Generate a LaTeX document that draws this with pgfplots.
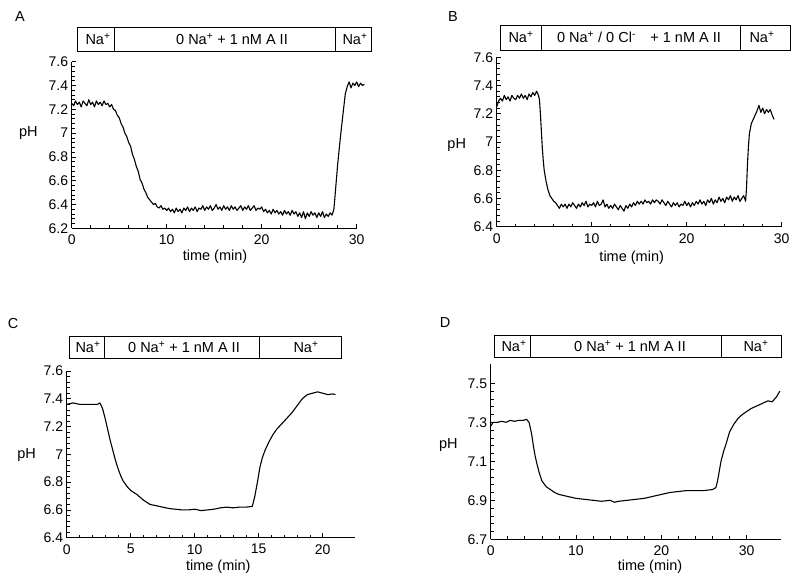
\documentclass[border=0pt]{standalone}
\usepackage{pgfplots}
\pgfplotsset{compat=1.18}
\usepackage{fontspec}
\setmainfont{Liberation Sans}
\pgfplotstableread{
t pH
0 7.25
0.2 7.23
0.4 7.27
0.6 7.24
0.8 7.26
1.0 7.22
1.2 7.27
1.4 7.25
1.6 7.23
1.8 7.28
2.0 7.24
2.2 7.26
2.4 7.22
2.6 7.27
2.8 7.24
3.0 7.26
3.2 7.23
3.4 7.27
3.6 7.24
3.8 7.25
4.0 7.22
4.2 7.24
4.4 7.20
4.6 7.19
4.8 7.15
5.0 7.13
5.2 7.08
5.4 7.05
5.6 7.00
5.8 6.97
6.0 6.92
6.2 6.89
6.4 6.82
6.6 6.78
6.8 6.72
7.0 6.68
7.2 6.61
7.4 6.58
7.6 6.53
7.8 6.50
8.0 6.46
8.2 6.44
8.4 6.42
8.6 6.40
8.8 6.41
9.0 6.38
9.2 6.37
9.4 6.39
9.6 6.36
9.8 6.37
10.0 6.35
10.2 6.37
10.4 6.34
10.6 6.36
10.8 6.33
11.0 6.37
11.2 6.34
11.4 6.36
11.6 6.33
11.8 6.37
12.0 6.35
12.2 6.38
12.4 6.34
12.6 6.37
12.8 6.35
13.0 6.38
13.2 6.34
13.4 6.37
13.6 6.36
13.8 6.39
14.0 6.35
14.2 6.38
14.4 6.36
14.6 6.39
14.8 6.35
15.0 6.37
15.2 6.40
15.4 6.36
15.6 6.38
15.8 6.35
16.0 6.39
16.2 6.36
16.4 6.38
16.6 6.35
16.8 6.39
17.0 6.36
17.2 6.38
17.4 6.35
17.6 6.37
17.8 6.39
18.0 6.35
18.2 6.38
18.4 6.36
18.6 6.39
18.8 6.35
19.0 6.37
19.2 6.39
19.4 6.35
19.6 6.37
19.8 6.36
20.0 6.38
20.2 6.34
20.4 6.36
20.6 6.33
20.8 6.35
21.0 6.32
21.2 6.36
21.4 6.33
21.6 6.35
21.8 6.32
22.0 6.34
22.2 6.31
22.4 6.35
22.6 6.32
22.8 6.34
23.0 6.31
23.2 6.35
23.4 6.32
23.6 6.34
23.8 6.30
24.0 6.33
24.2 6.29
24.4 6.34
24.6 6.28
24.8 6.33
25.0 6.30
25.2 6.34
25.4 6.31
25.6 6.33
25.8 6.29
26.0 6.33
26.2 6.30
26.4 6.34
26.6 6.29
26.8 6.32
27.0 6.30
27.2 6.33
27.4 6.31
27.6 6.36
27.8 6.55
28.0 6.74
28.2 6.90
28.4 7.05
28.6 7.19
28.8 7.33
29.0 7.39
29.2 7.43
29.4 7.38
29.6 7.42
29.8 7.40
30.0 7.43
30.2 7.39
30.4 7.42
30.6 7.40
30.8 7.41
}\dataA
\pgfplotstableread{
t pH
0 7.25
0.2 7.29
0.4 7.31
0.6 7.29
0.8 7.33
1.0 7.30
1.2 7.32
1.4 7.29
1.6 7.33
1.8 7.31
2.0 7.30
2.2 7.33
2.4 7.31
2.6 7.34
2.8 7.31
3.0 7.33
3.2 7.30
3.4 7.34
3.6 7.32
3.8 7.35
4.0 7.33
4.2 7.36
4.4 7.33
4.5 7.30
4.6 7.20
4.7 7.08
4.8 6.96
4.9 6.87
5.0 6.80
5.2 6.72
5.4 6.66
5.6 6.62
5.8 6.60
6.0 6.58
6.2 6.57
6.4 6.55
6.6 6.53
6.8 6.56
7.0 6.54
7.2 6.56
7.4 6.53
7.6 6.56
7.8 6.54
8.0 6.57
8.2 6.55
8.4 6.53
8.6 6.56
8.8 6.54
9.0 6.57
9.2 6.55
9.4 6.58
9.6 6.54
9.8 6.56
10.0 6.55
10.2 6.57
10.4 6.54
10.6 6.58
10.8 6.55
11.0 6.56
11.2 6.59
11.4 6.54
11.6 6.56
11.8 6.53
12.0 6.55
12.2 6.53
12.4 6.56
12.6 6.54
12.8 6.52
13.0 6.55
13.2 6.53
13.4 6.51
13.6 6.55
13.8 6.53
14.0 6.56
14.2 6.54
14.4 6.57
14.6 6.55
14.8 6.58
15.0 6.56
15.2 6.58
15.4 6.56
15.6 6.59
15.8 6.57
16.0 6.58
16.2 6.56
16.4 6.59
16.6 6.57
16.8 6.59
17.0 6.58
17.2 6.56
17.4 6.59
17.6 6.57
17.8 6.55
18.0 6.58
18.2 6.56
18.4 6.54
18.6 6.57
18.8 6.55
19.0 6.57
19.2 6.54
19.4 6.56
19.6 6.55
19.8 6.58
20.0 6.55
20.2 6.57
20.4 6.54
20.6 6.57
20.8 6.55
21.0 6.58
21.2 6.56
21.4 6.59
21.6 6.56
21.8 6.58
22.0 6.55
22.2 6.59
22.4 6.57
22.6 6.60
22.8 6.56
23.0 6.59
23.2 6.57
23.4 6.61
23.6 6.58
23.8 6.60
24.0 6.57
24.2 6.61
24.4 6.59
24.6 6.62
24.8 6.58
25.0 6.61
25.2 6.59
25.4 6.62
25.6 6.58
25.8 6.60
26.0 6.62
26.2 6.58
26.3 6.68
26.4 6.85
26.5 6.97
26.6 7.06
26.8 7.13
27.0 7.16
27.2 7.19
27.4 7.22
27.6 7.26
27.8 7.21
28.0 7.24
28.2 7.20
28.4 7.23
28.6 7.21
28.8 7.23
29.0 7.19
29.2 7.16
}\dataB
\pgfplotstableread{
t pH
0 7.36
0.5 7.37
1.0 7.36
1.5 7.36
2.0 7.36
2.4 7.36
2.6 7.37
2.8 7.33
3.0 7.26
3.2 7.18
3.4 7.10
3.6 7.03
3.8 6.96
4.0 6.90
4.2 6.85
4.4 6.81
4.7 6.77
5.0 6.74
5.5 6.71
6.0 6.67
6.5 6.64
7.0 6.63
7.5 6.62
8.0 6.61
8.5 6.605
9.0 6.60
9.5 6.60
10.0 6.605
10.5 6.595
11.0 6.60
11.5 6.605
12.0 6.615
12.5 6.62
13.0 6.615
13.5 6.62
14.0 6.62
14.5 6.625
14.7 6.70
14.9 6.80
15.1 6.91
15.3 6.98
15.5 7.03
15.8 7.09
16.1 7.14
16.4 7.18
16.8 7.22
17.2 7.26
17.6 7.30
18.0 7.35
18.4 7.40
18.8 7.43
19.2 7.44
19.6 7.45
20.0 7.44
20.4 7.43
20.8 7.435
21.0 7.43
}\dataC
\pgfplotstableread{
t pH
0 7.28
0.3 7.30
0.8 7.30
1.3 7.305
1.8 7.30
2.3 7.31
2.8 7.305
3.3 7.31
3.8 7.31
4.2 7.315
4.5 7.30
4.8 7.24
5.0 7.18
5.2 7.13
5.4 7.09
5.7 7.04
6.0 7.00
6.5 6.97
7.0 6.955
7.5 6.94
8.0 6.93
9.0 6.92
10.0 6.91
11.0 6.905
12.0 6.90
13.0 6.895
14.0 6.90
14.5 6.89
15.0 6.895
16.0 6.90
17.0 6.905
18.0 6.91
19.0 6.92
20.0 6.93
21.0 6.94
22.0 6.945
23.0 6.95
24.0 6.95
25.0 6.95
26.0 6.955
26.4 6.965
26.6 7.00
26.8 7.05
27.0 7.10
27.3 7.15
27.6 7.19
28.0 7.25
28.5 7.29
29.0 7.32
29.5 7.34
30.0 7.355
30.5 7.37
31.0 7.38
31.5 7.39
32.0 7.40
32.5 7.41
33.0 7.405
33.5 7.43
33.9 7.46
}\dataD
\pgfplotsset{
  panel/.style={
    scale only axis, anchor=south west, axis lines=left,
    axis line style={-, line width=0.8pt},
    tick align=inside, major tick length=4.5pt, minor tick length=3pt,
    every tick/.style={black, line width=0.7pt},
    tick label style={font=\fontsize{14}{16}\selectfont},
    xticklabel style={yshift=-3pt},
    /pgf/number format/assume math mode=true,
    minor x tick num=4, minor y tick num=4,
    clip=false,
  },
  trace/.style={black, line width=1.1pt, no marks, line join=round},
}
\begin{document}
\begin{tikzpicture}
\useasboundingbox (0pt,0pt) rectangle (800pt,586pt);
% Panel A
\begin{axis}[panel, at={(71.7pt,357.7pt)}, width=285pt, height=166.6pt,
  xmin=0, xmax=30, ymin=6.2, ymax=7.6,
  xtick={0,10,20,30}, ytick={6.2,6.4,6.6,6.8,7,7.2,7.4,7.6}]
\addplot[trace] table[x=t,y=pH]{\dataA};
\end{axis}
% Panel B
\begin{axis}[panel, at={(496.7pt,359.3pt)}, width=285pt, height=169.4pt,
  xmin=0, xmax=30, ymin=6.4, ymax=7.6,
  xtick={0,10,20,30}, ytick={6.4,6.6,6.8,7,7.2,7.4,7.6}]
\addplot[trace] table[x=t,y=pH]{\dataB};
\end{axis}
% Panel C
\begin{axis}[panel, at={(66.7pt,48.3pt)}, width=288pt, height=166.7pt,
  xmin=0, xmax=22.5, ymin=6.4, ymax=7.6,
  xtick={0,5,10,15,20}, ytick={6.4,6.6,6.8,7,7.2,7.4,7.6}]
\addplot[trace] table[x=t,y=pH]{\dataC};
\end{axis}
% Panel D
\begin{axis}[panel, at={(490.7pt,46.7pt)}, width=290pt, height=175.5pt,
  xmin=0, xmax=34, ymin=6.7, ymax=7.6,
  xtick={0,10,20,30}, ytick={6.7,6.9,7.1,7.3,7.5}]
\addplot[trace] table[x=t,y=pH]{\dataD};
\end{axis}
% labels
\tikzset{lab/.style={font=\fontsize{14.5}{17}\selectfont, inner sep=0pt}}
\node[lab] at (20pt,569pt) {A};
\node[lab] at (453pt,569pt) {B};
\node[lab] at (13pt,262pt) {C};
\node[lab] at (445pt,263pt) {D};
\node[lab] at (28.3pt,452.7pt) {pH};
\node[lab] at (456.7pt,441pt) {pH};
\node[lab] at (26.7pt,131pt) {pH};
\node[lab] at (448.3pt,141pt) {pH};
\node[lab] at (215pt,329.3pt) {time (min)};
\node[lab] at (631.7pt,328.7pt) {time (min)};
\node[lab] at (218.3pt,19.3pt) {time (min)};
\node[lab] at (650pt,19.3pt) {time (min)};
% boxes
\tikzset{bx/.style={line width=0.8pt}}
\draw[bx] (77pt,535pt) rectangle (371pt,559pt); \draw[bx] (114pt,535pt)--(114pt,559pt); \draw[bx] (335pt,535pt)--(335pt,559pt);
\node[lab] at (98pt,547pt) {Na\textsuperscript{+}};
\node[lab] at (232pt,547pt) {0 Na\textsuperscript{+} + 1 nM A II};
\node[lab] at (355pt,547pt) {Na\textsuperscript{+}};
\draw[bx] (500.7pt,536pt) rectangle (790pt,561pt); \draw[bx] (541.7pt,536pt)--(541.7pt,561pt); \draw[bx] (740.7pt,536pt)--(740.7pt,561pt);
\node[lab] at (521pt,548.5pt) {Na\textsuperscript{+}};
\node[lab] at (639pt,548.5pt) {0 Na\textsuperscript{+} / 0 Cl\textsuperscript{-}\quad + 1 nM A II};
\node[lab] at (762pt,548.5pt) {Na\textsuperscript{+}};
\draw[bx] (69pt,228pt) rectangle (341.7pt,250pt); \draw[bx] (104pt,228pt)--(104pt,250pt); \draw[bx] (259.3pt,228pt)--(259.3pt,250pt);
\node[lab] at (88pt,239pt) {Na\textsuperscript{+}};
\node[lab] at (184pt,239pt) {0 Na\textsuperscript{+} + 1 nM A II};
\node[lab] at (306pt,239pt) {Na\textsuperscript{+}};
\draw[bx] (494pt,229pt) rectangle (781.7pt,251pt); \draw[bx] (530.7pt,229pt)--(530.7pt,251pt); \draw[bx] (721.7pt,229pt)--(721.7pt,251pt);
\node[lab] at (514pt,240pt) {Na\textsuperscript{+}};
\node[lab] at (630pt,240pt) {0 Na\textsuperscript{+} + 1 nM A II};
\node[lab] at (756pt,240pt) {Na\textsuperscript{+}};
\end{tikzpicture}
\end{document}
